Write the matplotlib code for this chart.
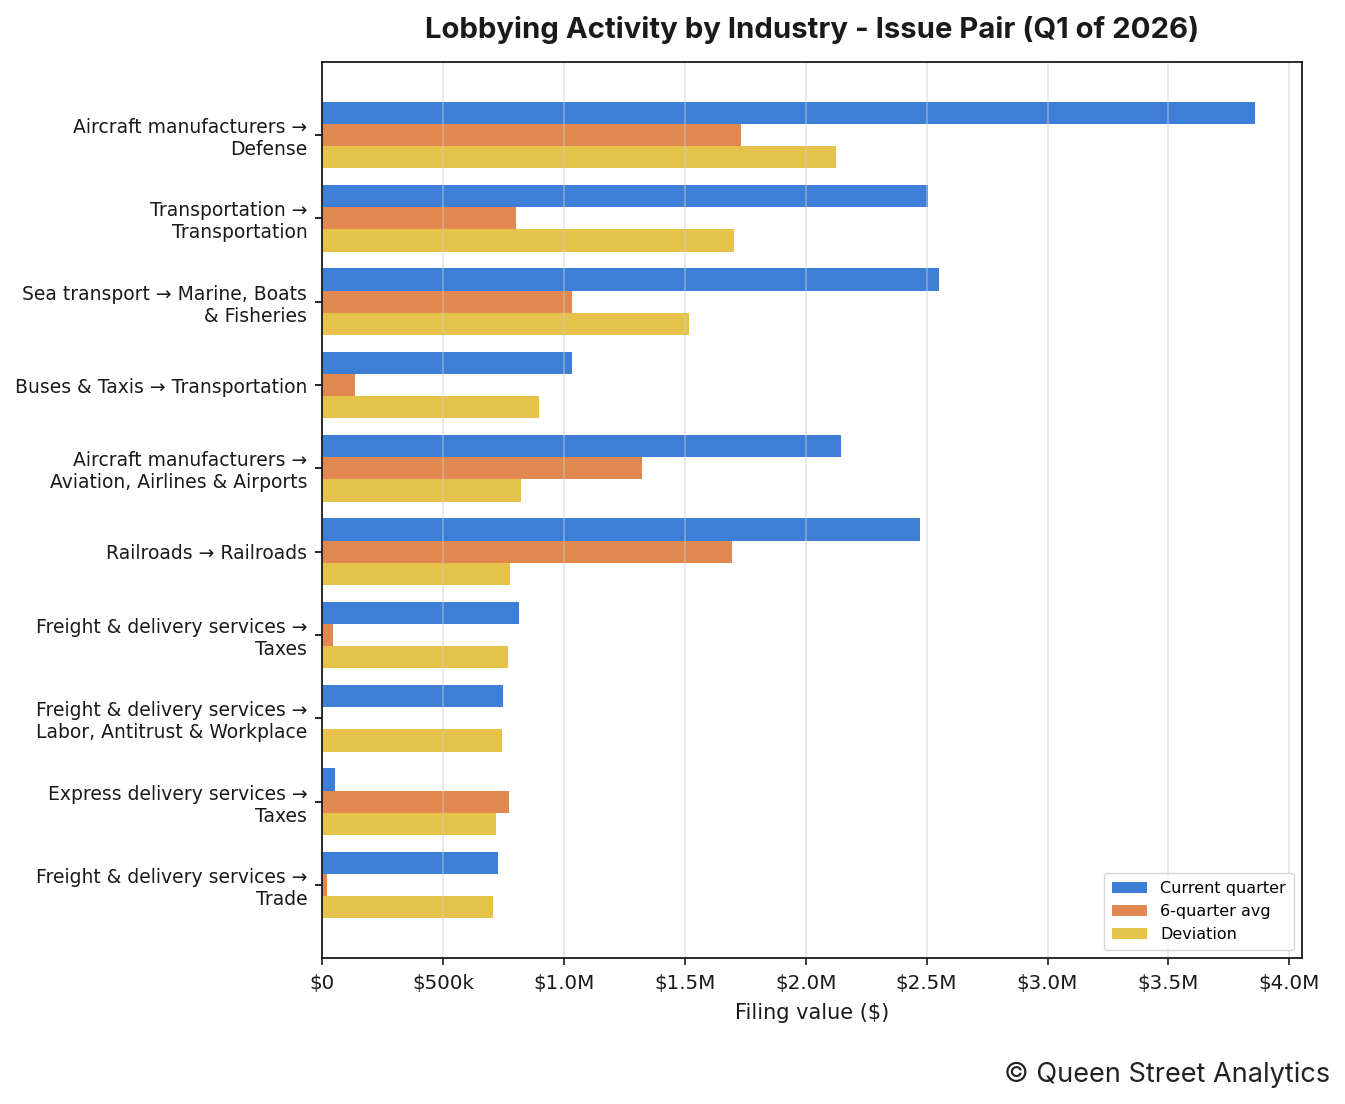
import matplotlib
matplotlib.use("Agg")
import matplotlib.pyplot as plt
import numpy as np
from matplotlib.ticker import FuncFormatter, MultipleLocator

categories = [
    "Aircraft manufacturers →\nDefense",
    "Transportation →\nTransportation",
    "Sea transport → Marine, Boats\n& Fisheries",
    "Buses & Taxis → Transportation",
    "Aircraft manufacturers →\nAviation, Airlines & Airports",
    "Railroads → Railroads",
    "Freight & delivery services →\nTaxes",
    "Freight & delivery services →\nLabor, Antitrust & Workplace",
    "Express delivery services →\nTaxes",
    "Freight & delivery services →\nTrade",
]
current_quarter = [3859000, 2507000, 2552000, 1034000, 2147000, 2474000, 815000, 749000, 54000, 728000]
six_quarter_avg = [1733000, 802000, 1034000, 137000, 1324000, 1696000, 45000, 0, 774000, 21000]
deviation = [2126000, 1705000, 1518000, 897000, 823000, 778000, 770000, 745000, 720000, 707000]

series_names = ["Current quarter", "6-quarter avg", "Deviation"]
colors = ["#3D7FD6", "#E0884F", "#E5C34A"]

fig = plt.figure(figsize=(13.45, 11.04), dpi=100)
ax = fig.add_axes([0.2394, 0.1322, 0.7286, 0.8116])

y = np.arange(len(categories))
h = 0.8 / 3
for i, (vals, name, c) in enumerate(zip([current_quarter, six_quarter_avg, deviation], series_names, colors)):
    ax.barh(y + (i - 1) * h, vals, height=h, color=c, label=name)

ax.set_yticks(y)
ax.set_yticklabels(categories, fontsize=13.5, color="#1a1a1a")
ax.set_ylim(len(categories) - 1 + 0.876, -0.876)
ax.set_xlim(0, max(current_quarter) * 1.05)
ax.xaxis.set_major_locator(MultipleLocator(500000))

def fmt(v, pos):
    if v == 0:
        return "$0"
    if v < 1e6:
        return f"${v/1e3:.0f}k"
    return f"${v/1e6:.1f}M"

ax.xaxis.set_major_formatter(FuncFormatter(fmt))
ax.tick_params(axis="x", labelsize=14.3, colors="#1a1a1a", length=5, width=1.2, pad=6.6)
ax.tick_params(axis="y", length=5, width=1.2, pad=5.6)
ax.grid(axis="x", color="#cccccc", alpha=0.5, linewidth=1.2)
for s in ax.spines.values():
    s.set_linewidth(1.3)
    s.set_color("#1a1a1a")

ax.set_xlabel("Filing value ($)", fontsize=15, color="#1a1a1a", labelpad=7)
ax.set_title("Lobbying Activity by Industry - Issue Pair (Q1 of 2026)", fontsize=21.1,
             fontfamily="Inter", fontweight="bold", color="#1a1a1a", pad=17)

ax.legend(loc="lower right", fontsize=11.5, handlelength=2.2, borderpad=0.5)

fig.text(0.9888, 0.0195, "© Queen Street Analytics", ha="right", va="baseline",
         fontsize=19.5, fontfamily="Inter", color="#222222")

fig.savefig("out.png", dpi=100)
